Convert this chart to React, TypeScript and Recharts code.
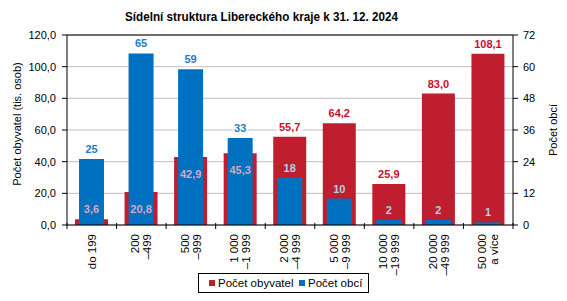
import React from "react";
import {
  BarChart,
  Bar,
  XAxis,
  YAxis,
  CartesianGrid,
  ReferenceLine,
  LabelList,
} from "recharts";

const categoryLine1 = ["do 199", "200", "500", "1 000", "2 000", "5 000", "10 000", "20 000", "50 000"];
const categoryLine2 = ["", "–499", "–999", "–1 999", "–4 999", "–9 999", "–19 999", "–49 999", "a více"];
const populationThousands = [3.6, 20.8, 42.9, 45.3, 55.7, 64.2, 25.9, 83.0, 108.1];
const municipalityCounts = [25, 65, 59, 33, 18, 10, 2, 2, 1];
const leftTicks = [0, 20, 40, 60, 80, 100, 120];
const rightTicks = [0, 12, 24, 36, 48, 60, 72];
const seriesNames = ["Počet obyvatel", "Počet obcí"];
const LEFT_MAX = 120;
const RIGHT_MAX = 72;

const data = categoryLine1.map((c, i) => ({
  cat: c,
  cat2: categoryLine2[i],
  pop: populationThousands[i],
  obce: municipalityCounts[i],
}));

const RED = "#BE1E2D";
const BLUE = "#0070C0";
const RED_TEXT = "#C8102E";
const BLUE_TEXT = "#1F7BC8";
const PINK_TEXT = "#D9A6BE";
const LIGHTBLUE_TEXT = "#B6CDE4";
const FONT = "'Liberation Sans', Arial, sans-serif";

const W = 567;
const H = 301;
const LEFT_W = 67;
const RIGHT_W = 54;
const XAXIS_H = 76;
const AXIS_Y = H - XAXIS_H;
const BAND = (W - LEFT_W - RIGHT_W) / categoryLine1.length;

const fmt1 = (v: number) => v.toFixed(1).replace(".", ",");

const XTick = (props: any) => {
  const { x, payload, index } = props;
  const i = index ?? payload.index;
  const y = AXIS_Y;
  const l1 = categoryLine1[i];
  const l2 = categoryLine2[i];
  const lines = [];
  lines.push(
    <line key="t0" x1={x - BAND / 2} x2={x - BAND / 2} y1={y - 2} y2={y + 4} stroke="#000" strokeWidth={1} />
  );
  if (i === categoryLine1.length - 1) {
    lines.push(
      <line key="t1" x1={x + BAND / 2} x2={x + BAND / 2} y1={y - 2} y2={y + 4} stroke="#000" strokeWidth={1} />
    );
  }
  return (
    <g>
      {lines}
      <g transform={`translate(${x},${y + 9}) rotate(-90)`}>
        {l2 ? (
          <text textAnchor="end" fontSize={11.5} fontFamily={FONT} fill="#000">
            <tspan x={0} y={-2}>{l1}</tspan>
            <tspan x={0} y={10}>{l2}</tspan>
          </text>
        ) : (
          <text textAnchor="end" fontSize={11.5} fontFamily={FONT} fill="#000" x={0} y={4}>
            {l1}
          </text>
        )}
      </g>
    </g>
  );
};

const textWidth = (s: string) => s.length * 6.2 + 2;

const RedLabel = (props: any) => {
  const { x, y, width, height, index, value } = props;
  const i = index;
  const pop = populationThousands[i];
  const ob = municipalityCounts[i];
  const cx = x + width / 2;
  const s = fmt1(value ?? pop);
  const inside = pop / LEFT_MAX < ob / RIGHT_MAX;
  if (inside) {
    const cy = Math.min(y + 17, y + height - 16);
    return (
      <text x={cx} y={cy + 4} textAnchor="middle" fontSize={11} fontWeight="bold" fontFamily={FONT} fill={PINK_TEXT}>
        {s}
      </text>
    );
  }
  const cy = y - 10;
  const tw = textWidth(s);
  return (
    <g>
      <rect x={cx - tw / 2} y={cy - 7} width={tw} height={14} fill="#fff" />
      <text x={cx} y={cy + 4} textAnchor="middle" fontSize={11} fontWeight="bold" fontFamily={FONT} fill={RED_TEXT}>
        {s}
      </text>
    </g>
  );
};

const BlueLabel = (props: any) => {
  const { x, y, width, index, value } = props;
  const i = index;
  const pop = populationThousands[i];
  const ob = municipalityCounts[i];
  const cx = x + width / 2;
  const s = String(value ?? ob);
  const overRed = pop / LEFT_MAX > ob / RIGHT_MAX;
  const cy = y - 10;
  if (overRed) {
    return (
      <text x={cx} y={cy + 4} textAnchor="middle" fontSize={11} fontWeight="bold" fontFamily={FONT} fill={LIGHTBLUE_TEXT}>
        {s}
      </text>
    );
  }
  const tw = textWidth(s);
  return (
    <g>
      <rect x={cx - tw / 2} y={cy - 7} width={tw} height={14} fill="#fff" />
      <text x={cx} y={cy + 4} textAnchor="middle" fontSize={11} fontWeight="bold" fontFamily={FONT} fill={BLUE_TEXT}>
        {s}
      </text>
    </g>
  );
};

const LeftTitle = (props: any) => {
  const vb = props.viewBox || {};
  const cx = 17;
  const cy = (vb.y ?? 35) + (vb.height ?? 190) / 2 - 6;
  return (
    <text
      transform={`translate(${cx},${cy}) rotate(-90)`}
      textAnchor="middle"
      dominantBaseline="central"
      fontSize={11}
      fontFamily={FONT}
      fill="#000"
    >
      Počet obyvatel (tis. osob)
    </text>
  );
};

const RightTitle = (props: any) => {
  const vb = props.viewBox || {};
  const cx = 553;
  const cy = (vb.y ?? 35) + (vb.height ?? 190) / 2;
  return (
    <text
      transform={`translate(${cx},${cy}) rotate(-90)`}
      textAnchor="middle"
      dominantBaseline="central"
      fontSize={11}
      fontFamily={FONT}
      fill="#000"
    >
      Počet obcí
    </text>
  );
};

export default function App() {
  return (
    <div style={{ position: "absolute", left: 0, top: 0, width: W, height: H, background: "#fff", fontFamily: FONT }}>
      <BarChart
        width={W}
        height={H}
        data={data}
        margin={{ top: 35, right: 0, left: 0, bottom: 0 }}
      >
        <CartesianGrid yAxisId="left" xAxisId="pop" vertical={false} stroke="#BEBEBE" />
        <XAxis
          xAxisId="pop"
          dataKey="cat"
          height={XAXIS_H}
          axisLine={{ stroke: "#000" }}
          tickLine={false}
          tickSize={0}
          tickMargin={0}
          interval={0}
          tick={<XTick />}
        />
        <XAxis xAxisId="obc" dataKey="cat" hide height={0} />
        <XAxis xAxisId="lab" dataKey="cat" hide height={0} />
        <YAxis
          yAxisId="left"
          orientation="left"
          width={LEFT_W}
          domain={[0, LEFT_MAX]}
          ticks={leftTicks}
          tickFormatter={fmt1}
          axisLine={{ stroke: "#000" }}
          tickLine={{ stroke: "#000" }}
          tickSize={5}
          tickMargin={6}
          tick={{ fontSize: 11, fill: "#000", fontFamily: FONT }}
          interval={0}
          label={<LeftTitle />}
        />
        <YAxis
          yAxisId="right"
          orientation="right"
          width={RIGHT_W}
          domain={[0, RIGHT_MAX]}
          ticks={rightTicks}
          axisLine={{ stroke: "#000" }}
          tickLine={{ stroke: "#000" }}
          tickSize={5}
          tickMargin={5}
          tick={{ fontSize: 11, fill: "#000", fontFamily: FONT, textAnchor: "start" }}
          interval={0}
          label={<RightTitle />}
        />
        <ReferenceLine yAxisId="left" xAxisId="pop" y={LEFT_MAX} stroke="#000" />
        <Bar
          xAxisId="pop"
          yAxisId="left"
          dataKey="pop"
          name={seriesNames[0]}
          fill={RED}
          barSize={33}
          isAnimationActive={false}
        />
        <Bar
          xAxisId="obc"
          yAxisId="right"
          dataKey="obce"
          name={seriesNames[1]}
          fill={BLUE}
          barSize={25}
          isAnimationActive={false}
        >
          <LabelList dataKey="obce" content={<BlueLabel />} />
        </Bar>
        <Bar
          xAxisId="lab"
          yAxisId="left"
          dataKey="pop"
          fill="none"
          barSize={33}
          isAnimationActive={false}
        >
          <LabelList dataKey="pop" content={<RedLabel />} />
        </Bar>
      </BarChart>
      <svg
        width={W}
        height={H}
        style={{ position: "absolute", left: 0, top: 0, pointerEvents: "none" }}
      >
        <text
          x={261.5}
          y={21}
          textAnchor="middle"
          fontSize={13}
          fontWeight="bold"
          fontFamily={FONT}
          fill="#000"
          textLength={273}
          lengthAdjust="spacingAndGlyphs"
        >
          Sídelní struktura Libereckého kraje k 31. 12. 2024
        </text>
        <rect x={198.5} y={273.5} width={170} height={19} fill="#fff" stroke="#000" strokeWidth={1} />
        <rect x={209} y={280} width={6} height={6} fill={RED} />
        <text x={218} y={287} fontSize={11.5} fontFamily={FONT} fill="#000">
          {seriesNames[0]}
        </text>
        <rect x={299} y={280} width={6} height={6} fill={BLUE} />
        <text x={308} y={287} fontSize={11.5} fontFamily={FONT} fill="#000">
          {seriesNames[1]}
        </text>
      </svg>
    </div>
  );
}
